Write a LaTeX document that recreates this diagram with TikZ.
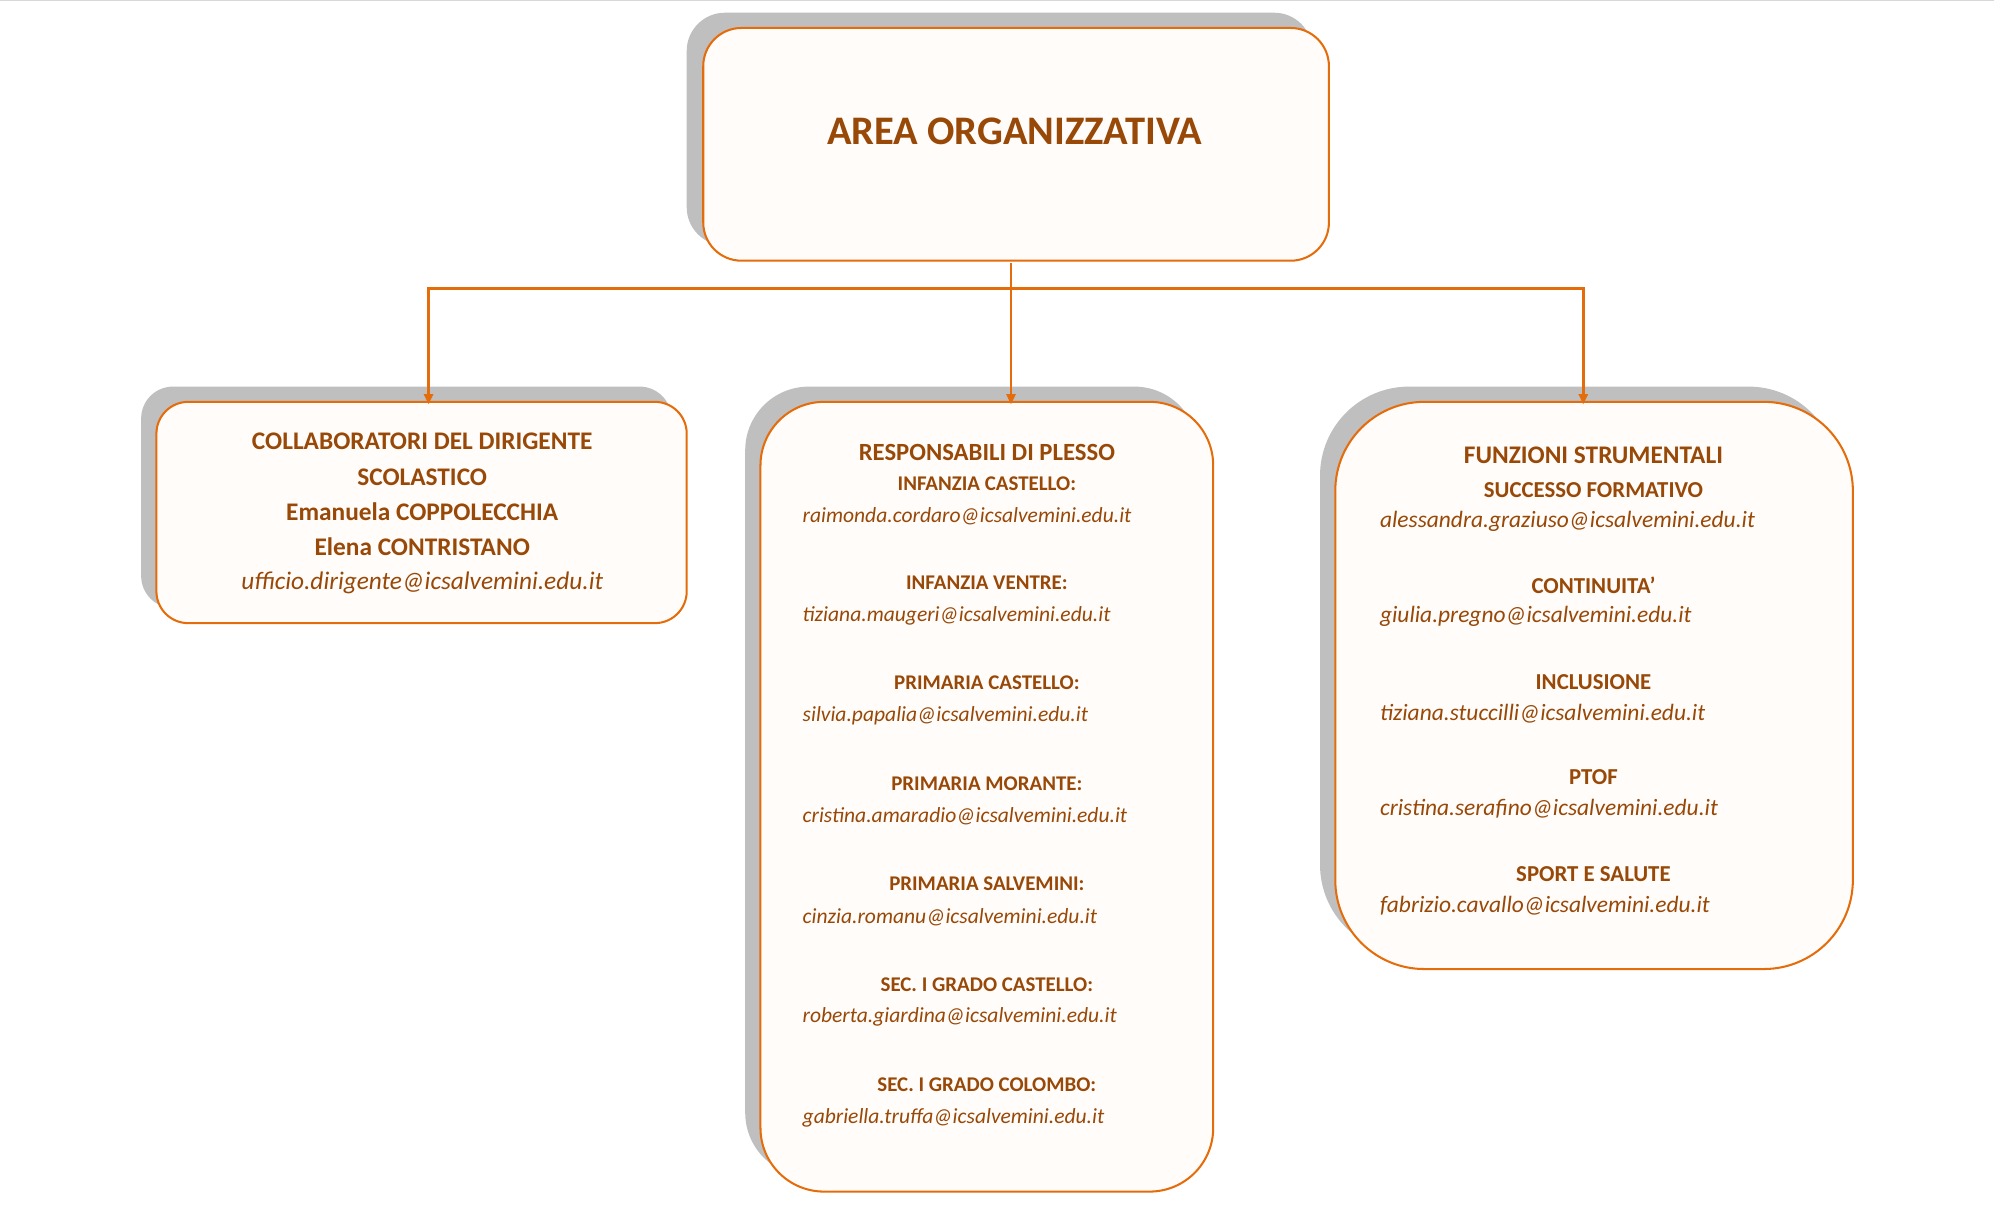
\documentclass[tikz,border=0pt]{standalone}
\usepackage{fontspec}
\setmainfont{Carlito}
\usetikzlibrary{arrows.meta}
\definecolor{org}{HTML}{E46C0A}
\definecolor{brn}{HTML}{984807}
\definecolor{shd}{HTML}{BFBFBF}
\definecolor{fil}{HTML}{FFFCFA}
\tikzset{
  box/.style={draw=org,line width=1.6bp,fill=fil},
  shadowbox/.style={fill=shd},
  conn/.style={draw=org,line width=2.2bp,-{Triangle[length=8bp,width=7bp]}},
  hd/.style={text=brn,font=\bfseries\fontsize{#1}{#1}\selectfont,anchor=center,inner sep=0},
  em/.style={text=brn,font=\itshape\fontsize{#1}{#1}\selectfont,inner sep=0},
}
\begin{document}
\begin{tikzpicture}[x=1bp,y=-1bp]
\useasboundingbox (0,0) rectangle (1568,950);
\draw[shd!60,line width=0.8bp] (0,0.5) -- (1568,0.5);
% shadows
\fill[shadowbox,rounded corners=30bp] (540,10) rectangle (1032,193);
\fill[shadowbox,rounded corners=25bp] (111,304) rectangle (528,478);
\fill[shadowbox,rounded corners=50bp] (586,304) rectangle (942,925);
\fill[shadowbox,rounded corners=70bp] (1038,304) rectangle (1445,750);
% boxes
\draw[box,rounded corners=30bp] (553,22) rectangle (1045,205);
\draw[box,rounded corners=25bp] (123,316) rectangle (540,490);
\draw[box,rounded corners=50bp] (598,316) rectangle (954,937);
\draw[box,rounded corners=70bp] (1050,316) rectangle (1457,762);
\node[hd=32] (top) at (798,103) {AREA ORGANIZZATIVA};
\coordinate (s) at (795,207);
\coordinate (j) at (795,227);
\coordinate (jl) at (337,227);
\coordinate (jr) at (1245,227);
\coordinate (tl) at (337,318);
\coordinate (tm) at (795,318);
\coordinate (tr) at (1245,318);
\draw[conn] (s) -- (tm);
\draw[conn] (j) -- (jl) -- (tl);
\draw[conn] (j) -- (jr) -- (tr);
% left
\node[hd=20] (l1) at (332,347) {COLLABORATORI DEL DIRIGENTE};
\node[hd=20] (l2) at (332,375) {SCOLASTICO};
\node[hd=20] (l3) at (332,402) {Emanuela COPPOLECCHIA};
\node[hd=20] (l4) at (332,430) {Elena CONTRISTANO};
\node[em=20] (l5) at (332,458) {ufficio.dirigente@icsalvemini.edu.it};
% middle
\node[hd=19.5] (m0) at (776,356) {RESPONSABILI DI PLESSO};
\foreach \h/\e/\y [count=\i] in {INFANZIA CASTELLO:/raimonda.cordaro/380,INFANZIA VENTRE:/tiziana.maugeri/458,PRIMARIA CASTELLO:/silvia.papalia/537,PRIMARIA MORANTE:/cristina.amaradio/616,PRIMARIA SALVEMINI:/cinzia.romanu/695,SEC. I GRADO CASTELLO:/roberta.giardina/774,SEC. I GRADO COLOMBO:/gabriella.truffa/853}{
  \node[hd=16.5] (mh\i) at (776,\y) {\h};
  \node[em=17,anchor=west] (me\i) at (631,\y+26) {\e @icsalvemini.edu.it};
}
% right
\node[hd=20] (r0) at (1253,358) {FUNZIONI STRUMENTALI};
\foreach \h/\e/\y [count=\i] in {SUCCESSO FORMATIVO/alessandra.graziuso/385,CONTINUITA’/giulia.pregno/460,INCLUSIONE/tiziana.stuccilli/536,PTOF/cristina.serafino/611,SPORT E SALUTE/fabrizio.cavallo/687}{
  \node[hd=18] (rh\i) at (1253,\y) {\h};
  \node[em=18.5,anchor=west] (re\i) at (1085,\y+25) {\e @icsalvemini.edu.it};
}
\end{tikzpicture}
\end{document}
